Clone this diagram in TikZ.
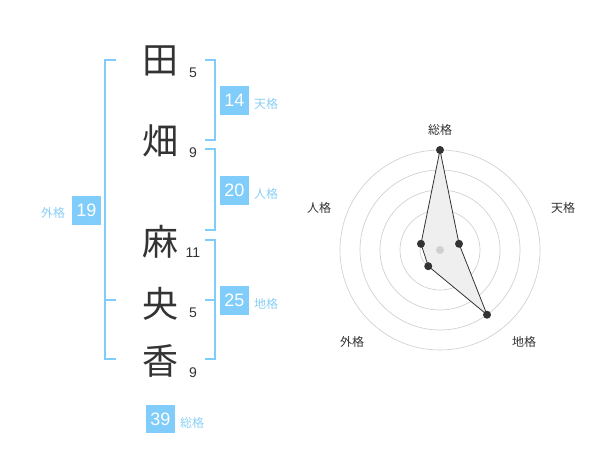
\documentclass[tikz,border=0pt]{standalone}
\usepackage{fontspec}
\setmainfont{Liberation Sans}
\newfontfamily\jpfont{Noto Sans CJK JP}
\usepackage{xcolor}
\usetikzlibrary{calc,positioning}
\definecolor{ink}{HTML}{333333}
\definecolor{sky}{HTML}{80CCFA}
\definecolor{skytext}{HTML}{8ACFF5}
\definecolor{ringc}{HTML}{D0D0D0}
\definecolor{shade}{HTML}{EFEFEF}
\tikzset{
  kanji/.style={text=ink, font=\jpfont\fontsize{27}{27}\selectfont, inner sep=0pt},
  strokes/.style={text=ink, font=\fontsize{10.5}{10.5}\selectfont, inner sep=0pt},
  numbox/.style={fill=sky, text=white, font=\fontsize{13.5}{13.5}\selectfont, minimum width=21.5pt, minimum height=21.5pt, inner sep=0pt},
  lab/.style={text=skytext, font=\jpfont\fontsize{9}{9}\selectfont, inner sep=0pt},
  bracket/.style={draw=sky, line width=1.5pt},
  ring/.style={draw=ringc, line width=0.5pt},
  poly/.style={draw=ink, fill=shade, line width=0.6pt, line join=round},
  axlab/.style={text=ink, font=\jpfont\fontsize{9}{9}\selectfont, inner sep=0pt},
  pt/.style={circle, fill=ink, inner sep=0pt, minimum size=6pt},
  hub/.style={circle, fill=ringc, inner sep=0pt, minimum size=6pt},
}

\begin{document}
\begin{tikzpicture}[x=0.75pt, y=-0.75pt]
  \useasboundingbox (0,0) rectangle (600,470);
  % name
  \node[kanji] (k1) at (160,61) {田};
  \node[kanji] (k2) at (160,141) {畑};
  \node[kanji] (k3) at (160,242) {麻};
  \node[kanji] (k4) at (160,304) {央};
  \node[kanji] (k5) at (160,361) {香};
  \node[strokes] (s1) at (193,73) {5};
  \node[strokes] (s2) at (193,153) {9};
  \node[strokes] (s3) at (193,253) {11};
  \node[strokes] (s4) at (193,313) {5};
  \node[strokes] (s5) at (193,373) {9};
  % brackets
  \draw[bracket] (205,60) -- (215,60) -- (215,140) -- (205,140);
  \draw[bracket] (205,149) -- (215,149) -- (215,230) -- (205,230);
  \draw[bracket] (205,240) -- (215,240) -- (215,359) -- (205,359);
  \draw[bracket] (205,300) -- (215,300);
  \draw[bracket] (116,60) -- (105,60) -- (105,359) -- (116,359);
  \draw[bracket] (105,300) -- (116,300);
  % totals
  \node[numbox] (ten) at (234.5,100.5) {14};
  \node[lab] (tenl) at (266,104) {天格};
  \node[numbox] (jin) at (234.5,190.5) {20};
  \node[lab] (jinl) at (266,194) {人格};
  \node[numbox] (chi) at (234.5,300.5) {25};
  \node[lab] (chil) at (266,304) {地格};
  \node[numbox] (gai) at (86.5,210.5) {19};
  \node[lab] (gail) at (53,213) {外格};
  \node[numbox] (sou) at (160.5,419) {39};
  \node[lab] (soul) at (192,423) {総格};
  % radar
  \coordinate (c) at (440,250);
  \foreach \r in {20,40,60,80,100}
    \draw[ring] (c) circle[radius=\r];
  \foreach \n/\a/\r in {rs/-90/100, rt/-18/20, rc/54/80, rg/126/20, rj/-162/20}
    \coordinate (\n) at ($(c)+(\a:\r)$);
  \draw[poly] (rs) -- (rt) -- (rc) -- (rg) -- (rj) -- cycle;
  \node[hub] (hub) at (c) {};
  \foreach \n in {rs,rt,rc,rg,rj}
    \node[pt] at (\n) {};
  \node[axlab] (as) at (440,130) {総格};
  \node[axlab] (at) at (563,208) {天格};
  \node[axlab] (aj) at (319,208) {人格};
  \node[axlab] (ag) at (352,342) {外格};
  \node[axlab] (ac) at (524,342) {地格};
\end{tikzpicture}
\end{document}
